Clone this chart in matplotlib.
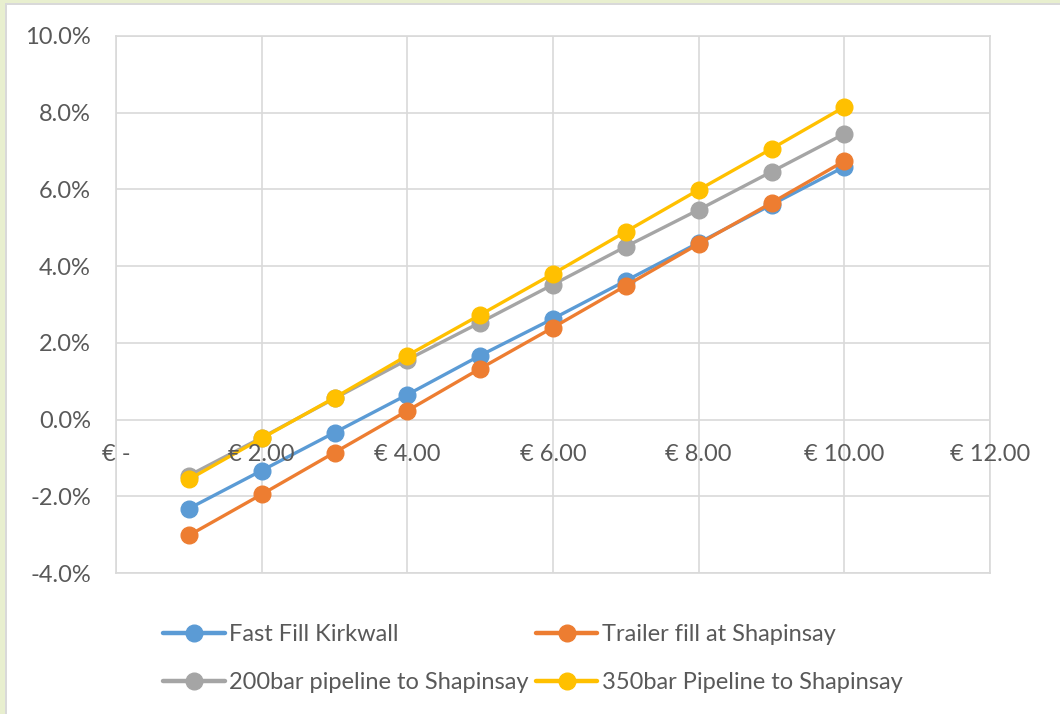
import matplotlib
matplotlib.use("Agg")
import matplotlib.pyplot as plt
from matplotlib.patches import Rectangle
from matplotlib.ticker import FuncFormatter, MultipleLocator

prices = [1, 2, 3, 4, 5, 6, 7, 8, 9, 10]
fast_fill_kirkwall = [-2.32, -1.33, -0.34, 0.65, 1.67, 2.63, 3.62, 4.61, 5.60, 6.59]
trailer_fill_shapinsay = [-3.02, -1.95, -0.86, 0.23, 1.33, 2.40, 3.49, 4.58, 5.65, 6.74]
pipeline_200bar = [-1.46, -0.47, 0.55, 1.56, 2.53, 3.52, 4.51, 5.47, 6.46, 7.45]
pipeline_350bar = [-1.56, -0.49, 0.57, 1.67, 2.73, 3.80, 4.90, 5.99, 7.06, 8.15]

series_names = ["Fast Fill Kirkwall", "Trailer fill at Shapinsay",
                "200bar pipeline to Shapinsay", "350bar Pipeline to Shapinsay"]
series_values = [fast_fill_kirkwall, trailer_fill_shapinsay, pipeline_200bar, pipeline_350bar]
colors = ["#5B9BD5", "#ED7D31", "#A5A5A5", "#FFC000"]

plt.rcParams['font.family'] = ['Lato', 'DejaVu Sans']
FS = 17
TXT = "#595959"

W, H = 1060, 714
fig = plt.figure(figsize=(W / 100, H / 100), dpi=100)
fig.patch.set_facecolor("white")

# screenshot frame: light green strip and gray border
fig.patches.append(Rectangle((0, 0), 5 / W, 1, transform=fig.transFigure,
                             facecolor="#E8EFCF", edgecolor="none", zorder=0))
fig.patches.append(Rectangle((0, 1 - 3 / H), 1, 3 / H, transform=fig.transFigure,
                             facecolor="#E8EFCF", edgecolor="none", zorder=0))
fig.patches.append(Rectangle((5 / W, 0), 2 / W, 1 - 3 / H, transform=fig.transFigure,
                             facecolor="#D9D9D9", edgecolor="none", zorder=0))
fig.patches.append(Rectangle((5 / W, 1 - 5 / H), 1, 2 / H, transform=fig.transFigure,
                             facecolor="#D9D9D9", edgecolor="none", zorder=0))

left, right = 116 / W, 990 / W
top, bottom = 36 / H, 573 / H
ax = fig.add_axes([left, 1 - bottom, right - left, bottom - top])

handles = []
for name, vals, c in zip(series_names, series_values, colors):
    h, = ax.plot(prices, vals, color=c, linewidth=2.4, marker="o", markersize=12,
                 label=name, solid_capstyle="round")
    handles.append(h)

ax.set_xlim(0, 12)
ax.set_ylim(-4, 10)
ax.xaxis.set_major_locator(MultipleLocator(2))
ax.yaxis.set_major_locator(MultipleLocator(2))
ax.grid(True, color="#D9D9D9", linewidth=1.2)
ax.set_axisbelow(True)
for s in ax.spines.values():
    s.set_color("#D9D9D9")
    s.set_linewidth(1.2)

ax.yaxis.set_major_formatter(FuncFormatter(lambda v, p: f"{v:.1f}%"))
ax.tick_params(axis="y", length=0, pad=18, labelsize=FS, labelcolor=TXT)
ax.tick_params(axis="x", length=0, labelbottom=False)

# x labels drawn at the zero line (axis crosses at 0%)
for xv in range(0, 13, 2):
    lab = "€ -" if xv == 0 else f"€ {xv:.2f}"
    ax.text(xv, -0.92, lab, ha="center", va="center", fontsize=FS, color=TXT)

# row-major legend order
order = [0, 2, 1, 3]
leg = fig.legend([handles[i] for i in order], [series_names[i] for i in order],
                 loc="upper left", bbox_to_anchor=(142 / W, 1 - 603 / H), ncol=2,
                 frameon=False, fontsize=FS, handlelength=2.6, columnspacing=0.3,
                 labelspacing=1.15, handletextpad=0.2)
for h in leg.legend_handles:
    h.set_linewidth(3.2)
for t in leg.get_texts():
    t.set_color(TXT)

fig.savefig("out.png", dpi=100)
